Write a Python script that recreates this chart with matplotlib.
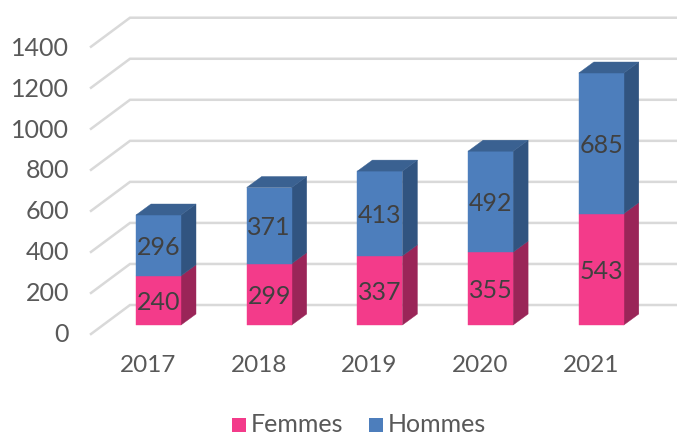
import numpy as np
from matplotlib import pyplot as plt
from matplotlib.patches import Polygon, Rectangle

years = ['2017', '2018', '2019', '2020', '2021']
femmes = [240, 299, 337, 355, 543]
hommes = [296, 371, 413, 492, 685]
ticks = [0, 200, 400, 600, 800, 1000, 1200, 1400]

W, H = 677, 432
x0, step = 158.5, 110.7   # pixel position of the first category, category spacing
y0, scale = 325, 0.2052   # pixel baseline, pixels per unit
bar_w = 45 / step
dx, dy = 15 / step, 11 / scale   # bar depth
wall_dx, wall_dy = (130 - x0) / step, 20 / scale  # back wall corner
left = (91 - x0) / step

PINK, PINK_SIDE = '#F33B8A', '#9A2558'
BLUE, BLUE_SIDE, BLUE_TOP = '#4D7EBC', '#315480', '#3A6191'
GRID = '#D9D9D9'

plt.rcParams['font.family'] = ['Lato', 'DejaVu Sans']
fig = plt.figure(figsize=(W / 100, H / 100), dpi=100)
ax = fig.add_axes([0, 0, 1, 1])
ax.set_xlim(-x0 / step, (W - x0) / step)
ax.set_ylim((y0 - H) / scale, y0 / scale)
ax.axis('off')

xright = (W - x0) / step
for t in ticks:
    ax.plot([left, wall_dx, xright], [t - 9 / scale, t + wall_dy, t + wall_dy],
            c=GRID, lw=1.8, zorder=1, solid_joinstyle='miter')
    ax.text((69 - x0) / step, t * 0.993 - 9 / scale, str(t), ha='right', va='center',
            fontsize=18, color='#595959')


def segment(x, bottom, height, front, side):
    l, r = x - bar_w / 2, x + bar_w / 2
    top = bottom + height
    ax.add_patch(Polygon([(r, bottom), (r + dx, bottom + dy), (r + dx, top + dy), (r, top)],
                         fc=side, ec=side, lw=0.3, zorder=3))
    ax.add_patch(Rectangle((l, bottom), bar_w, height, fc=front, ec=front, lw=0.3, zorder=3))


for i, year in enumerate(years):
    f, h = femmes[i], hommes[i]
    segment(i, 0, f, PINK, PINK_SIDE)
    segment(i, f, h, BLUE, BLUE_SIDE)
    l, r = i - bar_w / 2, i + bar_w / 2
    top = f + h
    ax.add_patch(Polygon([(l, top), (r, top), (r + dx, top + dy), (l + dx, top + dy)],
                         fc=BLUE_TOP, ec=BLUE_TOP, lw=0.3, zorder=3))
    ax.text(i, f / 2 - 2 / scale, str(f), ha='center', va='center', fontsize=18,
            color='#404040', zorder=4)
    ax.text(i, f + h / 2 - 2 / scale, str(h), ha='center', va='center', fontsize=18,
            color='#404040', zorder=4)
    ax.text(i - 10.5 / step, (y0 - 366) / scale, year, ha='center', va='center', fontsize=17.5,
            color='#595959')

# legend, placed by hand like the original
for px, colour, name in [(232, PINK, 'Femmes'), (369, BLUE, 'Hommes')]:
    ax.add_patch(Rectangle(((px - x0) / step, (y0 - 432) / scale), 14 / step, 14 / scale,
                           fc=colour, ec='none'))
    ax.text((px + 19 - x0) / step, (y0 - 424) / scale, name, ha='left', va='center',
            fontsize=18, color='#595959')

fig.savefig('out.png', dpi=100)
